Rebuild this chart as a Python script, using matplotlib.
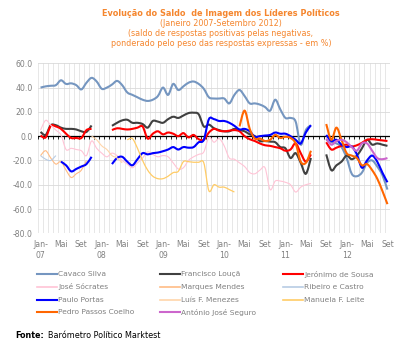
import numpy as np
import matplotlib
matplotlib.use("Agg")
import matplotlib.pyplot as plt
from matplotlib.lines import Line2D
from matplotlib.path import Path
from matplotlib.patches import PathPatch

nan = np.nan

# monthly values, Jan-2007 .. Sep-2012 (69 months), nan = no survey / not leader
cavaco = [40, 41, 41.5, 42, 46, 43, 43.5, 42, 38.5, 44, 48, 45,
          39, 40, 42.5, 45.5, 42, 36, 34, 32, 30, 29, 30, 33,
          40, 34, 43, 38, 41, 44, 45, 43, 39, 32, 31, 31,
          31, 27, 34, 38, 33, 27, 27, 26, 24, 21, 30, 22,
          15, 15, 12, -7, 5, 9, nan, nan, -3, -5, -6, -9,
          -18, -31, -33, -30, -22, -20, -25, -32, -44]
loucA = [3.5, 1, 9, 9, 7, 6, 6, 5.5, 4, 3.5, 8.8, nan,
         nan, nan, 8.5, 11, 13, 13.5, 11, 11, 10, 7, 12.5, 12,
         11, 14, 16, 15, 17, 19, 19.3, 18, 8, 9.5, 6.5, 5,
         4, 4, 6, 5, 4, 1.5, 0, -4, -4, -4.5, -5, -9,
         -10, -18, -14, -22, -31, -18, nan, nan, -15, -28, -24, -21,
         -16, -19, -16, -10, -3, -7, -6, -7, -8]
jeronimo = [0.5, -1, 8.5, 8, 6, 2, -1.5, -1.5, -1.5, 5, 6, nan,
            nan, nan, 5, 6.5, 6, 5.5, 6, 7, 8, -2, 2, 4,
            1.5, 3, 2, 0, 2.5, -1, 1, -2.5, -3, 3, 6, 4.5,
            4, 4.5, 5, 4, 0, -2.5, -4, -6, -7.5, -8, -9, -10,
            -12, -11, -6, -14, -21, -15, nan, nan, -5, -11, -9.5, -8,
            -7, -8.5, -7.5, -5.5, -3, -2.5, -3, -3.5, -4]
socrates = [5, 13, 9, 5, 1, -11, -10, -11, -12, -16, -4, -10,
            -14, -17, -14, -16, -20, -23, -26, -22, -18, -13, -15, -17,
            -16, -17, -22, -27, -26, -20, -17, -15, -13, -1, -5, -2,
            -8, -18, -19, -22, -25, -30, -31, -28, -26, -44, -37, -37,
            -38, -40, -46, -42, -40, -39] + [nan] * 15
marques_mendes = [-16, -12, -18, -23, -21, -28, -34, -31, -28, -20] + [nan] * 59
ribeiro_castro = [-16, -19, -20, -16] + [nan] * 65
portas = ([nan] * 4 + [-21, -24, -29, -27, -25, -23, -17, nan, nan, nan,
          -23, -18, -17, -21, -24, -19, -14, -15, -14, -13.5,
          -12.4, -11, -9, -11, -9, -9.5, -9, -5, -3, 14,
          14, 12.5, 12.5, 11, 8.5, 5.5, 6, 4, -0.5, 0,
          0.5, 1, 3, 2, 2, 0, -3, -6, 3, 9, nan, nan,
          1, -4, -3, -7, -9, -8.5, -15, -26, -20, -16, -21, -30, -38])
menezes = [nan] * 10 + [0, -3, -8, -11, -16, -18, -22] + [nan] * 52
ferreira_leite = ([nan] * 17 + [-3, -2, -10, -20, -28, -33, -35, -35, -33, -30, -29,
                  -21, -21, -21.5, -21.5, -22, -45, -40, -42, -42, -44, -46] + [nan] * 30)
passos_coelho = ([nan] * 39 + [8, 21, 6, -2, -2, -4, -3, 1, -1.5, -0.5, -1.5, -6, -21, -22, -12,
                 nan, nan, 10, -3, 7, -3, -14, -16, -18, -24, -23, -28, -35, -45, -56])
seguro = [nan] * 56 + [-2, -7, -4, -3, -5, -9, -12, -6, -6, -12, -18, -19, -18]

names = ["Cavaco Silva", "Francisco Louçã", "Jerónimo de Sousa",
         "José Sócrates", "Marques Mendes", "Ribeiro e Castro",
         "Paulo Portas", "Luís F. Menezes", "Manuela F. Leite",
         "Pedro Passos Coelho", "António José Seguro"]
values = [cavaco, loucA, jeronimo, socrates, marques_mendes, ribeiro_castro,
          portas, menezes, ferreira_leite, passos_coelho, seguro]
colors = ["#7596C0", "#404040", "#FF0000", "#FFC4D6", "#FFBC85", "#B8CCE4",
          "#0000FF", "#FFD6AA", "#FFCC66", "#FF6600", "#CC66CC"]
widths = [1.5, 1.5, 1.5, 0.8, 0.8, 0.8, 1.5, 0.8, 0.9, 1.5, 1.5]

tick_labels = ["Jan-\n07", "Mai", "Set", "Jan-\n08", "Mai", "Set",
               "Jan-\n09", "Mai", "Set", "Jan-\n10", "Mai", "Set",
               "Jan-\n11", "Mai", "Set", "Jan-\n12", "Mai", "Set"]


def smooth_path(xs, ys):
    # excel style smoothed line through the points (cubic bezier segments)
    pts = np.column_stack([xs, ys])
    verts, codes = [pts[0]], [Path.MOVETO]
    for i in range(len(pts) - 1):
        p0 = pts[i - 1] if i > 0 else pts[i]
        p1, p2 = pts[i], pts[i + 1]
        p3 = pts[i + 2] if i + 2 < len(pts) else pts[i + 1]
        verts += [p1 + (p2 - p0) / 6, p2 - (p3 - p1) / 6, p2]
        codes += [Path.CURVE4] * 3
    return Path(verts, codes)


W, H = 400, 349
fig = plt.figure(figsize=(W / 100, H / 100), dpi=100)
ax = fig.add_axes([38 / W, 1 - 233.3 / H, 352 / W, 170 / H])

n = len(cavaco)
x = np.arange(n)
for name, v, c, lw in zip(names, values, colors, widths):
    v = np.array(v, dtype=float)
    ok = np.isfinite(v)
    # split into runs of consecutive months
    start = None
    for i in range(n + 1):
        if i < n and ok[i]:
            if start is None:
                start = i
        elif start is not None:
            if i - start > 1:
                ax.add_patch(PathPatch(smooth_path(x[start:i], v[start:i]), fill=False,
                                       edgecolor=c, lw=lw, capstyle="butt", zorder=2))
            start = None

ax.set_xlim(-0.5, n - 0.5)
ax.set_ylim(-80, 60)
ax.set_yticks(np.arange(-80, 61, 20))
ax.set_yticklabels([f"{t:.1f}" for t in np.arange(-80, 61, 20)])
ax.set_xticks(np.arange(0, n, 4))
ax.set_xticklabels(tick_labels, linespacing=1.3)
ax.tick_params(length=0, labelsize=5.6, labelcolor="#808080", pad=5)
ax.tick_params(axis="y", pad=4)

for b in np.arange(-0.5, n, 1):
    ax.axvline(b, color="#E3E3E3", lw=0.6, zorder=0)
for t in np.arange(-80, 61, 20):
    ax.axhline(t, color="#D9D9D9", lw=0.6, zorder=0)
ax.axhline(0, color="black", lw=0.9, zorder=1.5)
ax.vlines(np.arange(-0.5, n, 1), -2.2, 0, color="black", lw=0.6, zorder=1.5)
for s in ax.spines.values():
    s.set_visible(False)

# title
tc = "#F5862E"
fig.text(221 / W, 1 - 13 / H, "Evolução do Saldo  de Imagem dos Líderes Políticos",
         ha="center", va="center", fontsize=5.9, fontweight="bold", color=tc)
fig.text(221 / W, 1 - 23 / H, "(Janeiro 2007-Setembro 2012)",
         ha="center", va="center", fontsize=5.8, color=tc)
fig.text(221 / W, 1 - 33 / H, "(saldo de respostas positivas pelas negativas,",
         ha="center", va="center", fontsize=5.8, color=tc)
fig.text(221 / W, 1 - 43 / H, "ponderado pelo peso das respostas expressas - em %)",
         ha="center", va="center", fontsize=5.8, color=tc)

# legend, row by row like the original
for k, (name, c, lw) in enumerate(zip(names, colors, widths)):
    row, col = divmod(k, 3)
    lx = 37 + 123 * col
    ly = 274 + 12.8 * row
    fig.add_artist(Line2D([lx / W, (lx + 20) / W], [1 - ly / H, 1 - ly / H],
                          color=c, lw=max(lw, 1.2), transform=fig.transFigure))
    fig.text((lx + 21) / W, 1 - ly / H, name, ha="left", va="center",
             fontsize=5.4, color="#808080")

fig.text(15 / W, 1 - 336 / H, "Fonte:", ha="left", va="center",
         fontsize=5.8, fontweight="bold", color="black")
fig.text(48 / W, 1 - 336 / H, "Barómetro Político Marktest", ha="left", va="center",
         fontsize=5.8, color="black")

fig.savefig("out.png", dpi=100)
